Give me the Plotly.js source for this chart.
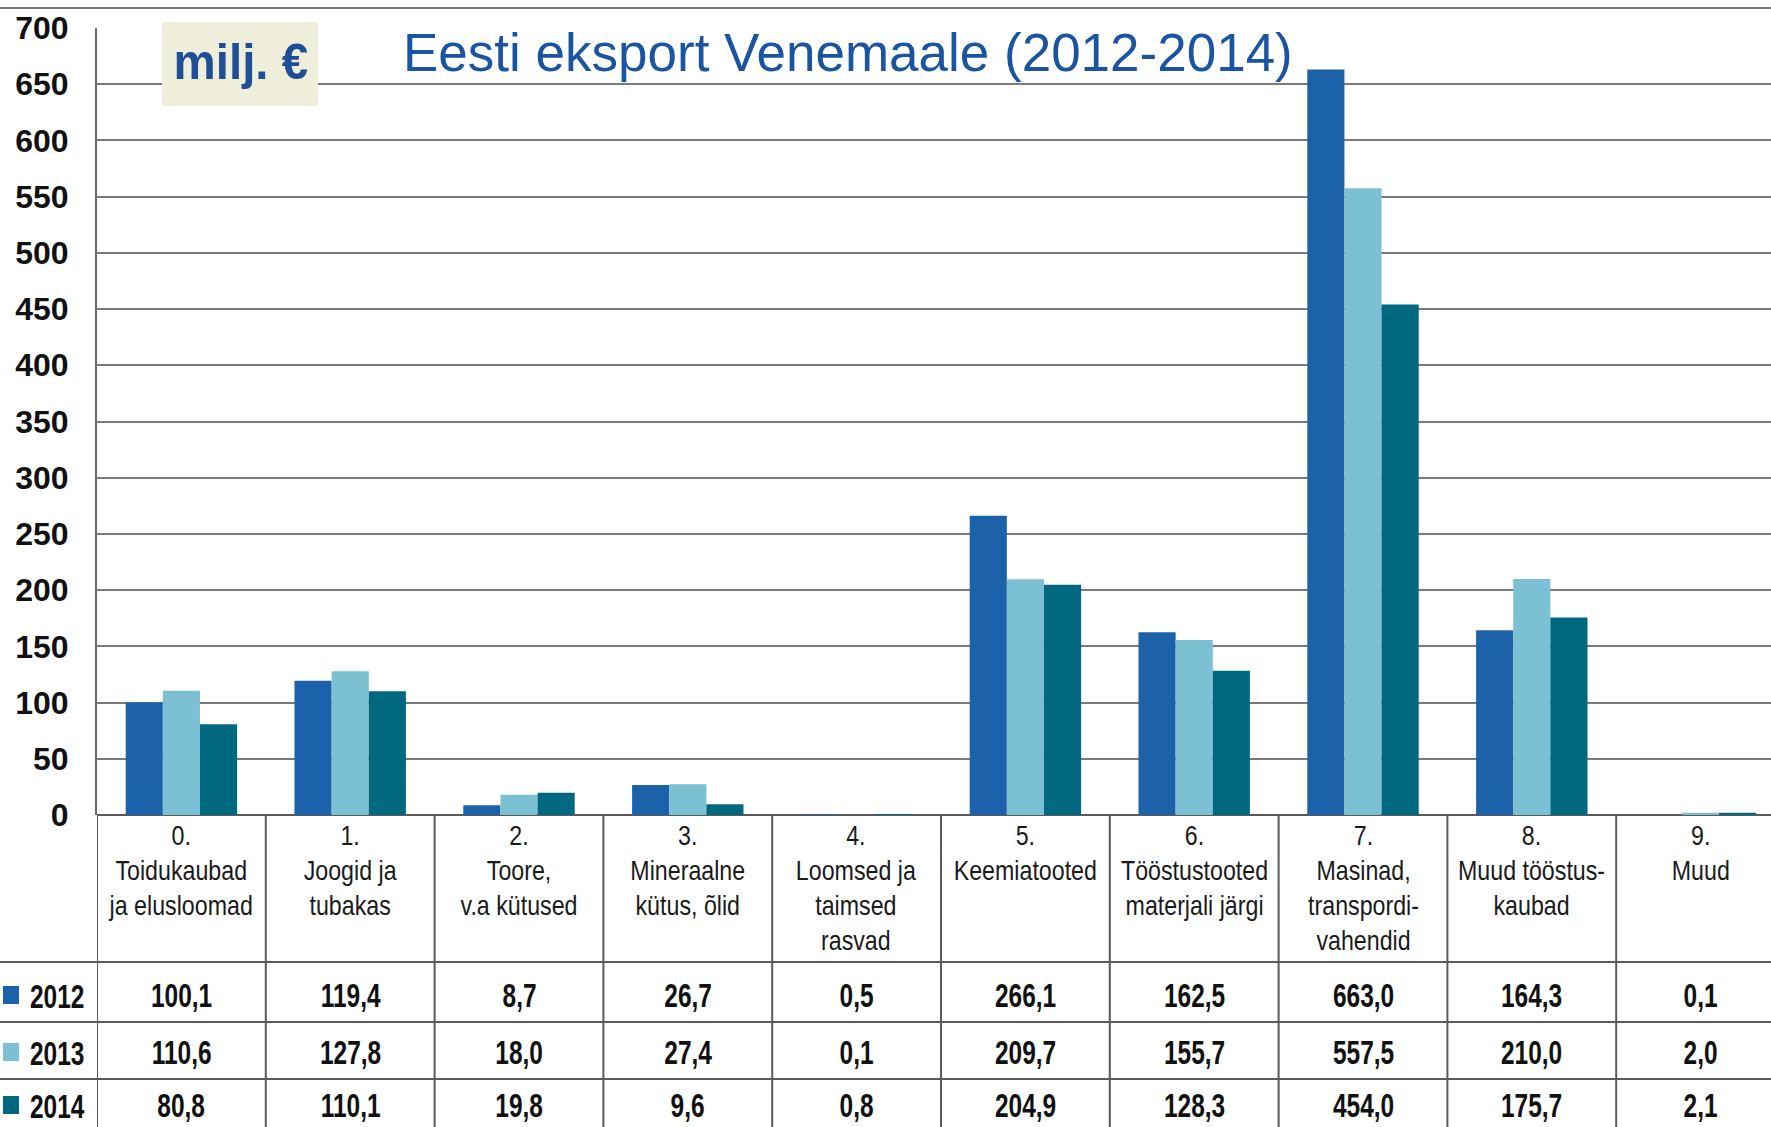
<!DOCTYPE html>
<html>
<head>
<meta charset="utf-8">
<script src="https://cdn.plot.ly/plotly-3.0.1.min.js"></script>
<style>html,body{margin:0;padding:0;background:#fff;}#chart{width:1771px;height:1127px;}</style>
</head>
<body>
<div id="chart"></div>
<script>
// ---- data ----
var categories = [
  "0.<br>Toidukaubad<br>ja elusloomad",
  "1.<br>Joogid ja<br>tubakas",
  "2.<br>Toore,<br>v.a kütused",
  "3.<br>Mineraalne<br>kütus, õlid",
  "4.<br>Loomsed ja<br>taimsed<br>rasvad",
  "5.<br>Keemiatooted",
  "6.<br>Tööstustooted<br>materjali järgi",
  "7.<br>Masinad,<br>transpordi-<br>vahendid",
  "8.<br>Muud tööstus-<br>kaubad",
  "9.<br>Muud"
];
var years = ["2012", "2013", "2014"];
var v2012 = [100.1, 119.4, 8.7, 26.7, 0.5, 266.1, 162.5, 663.0, 164.3, 0.1];
var v2013 = [110.6, 127.8, 18.0, 27.4, 0.1, 209.7, 155.7, 557.5, 210.0, 2.0];
var v2014 = [80.8, 110.1, 19.8, 9.6, 0.8, 204.9, 128.3, 454.0, 175.7, 2.1];
var yTicks = [0, 50, 100, 150, 200, 250, 300, 350, 400, 450, 500, 550, 600, 650, 700];
var titleText = "Eesti eksport Venemaale (2012-2014)";
var unitText = "milj. €";

// ---- styling / layout geometry ----
var colors = ["#1C62AA", "#7CC0D3", "#00687F"];
var W = 1771, H = 1127, L = 97, T = 28, B = 815;
var plotH = B - T, plotW = W - L;
function py(p) { return (B - p) / plotH; }   // pixel y -> paper y
function px(p) { return (p - L) / plotW; }   // pixel x -> paper x
var sans = "Liberation Sans, Arial, Helvetica, sans-serif";
var xs = categories.map(function (c, i) { return i; });
var series = [v2012, v2013, v2014];

var traces = series.map(function (vals, k) {
  return {
    type: "bar", x: xs, y: vals, name: years[k],
    marker: { color: colors[k], line: { width: 0 } },
    hoverinfo: "x+y", showlegend: false
  };
});

var shapes = [];
var annotations = [];
var annScale = [];   // horizontal condensing per annotation (1 = none)
var lineCol = "#5a5a5a";
function addAnn(a, s) { annotations.push(a); annScale.push(s || 1); }

// top frame line
shapes.push({ type: "line", xref: "paper", yref: "paper", x0: px(0), x1: 1, y0: py(8), y1: py(8), line: { color: "#7a7a7a", width: 2 } });
// table horizontal lines
[962, 1022, 1079].forEach(function (p) {
  shapes.push({ type: "line", xref: "paper", yref: "paper", x0: px(0), x1: 1, y0: py(p), y1: py(p), line: { color: lineCol, width: 2 } });
});
// table vertical lines
for (var k = 0; k <= categories.length; k++) {
  shapes.push({ type: "line", xref: "x", yref: "paper", x0: k - 0.5, x1: k - 0.5, y0: 0, y1: py(H), line: { color: lineCol, width: 2 } });
}
// unit box
shapes.push({ type: "rect", xref: "paper", yref: "paper", x0: px(162), x1: px(318), y0: py(22), y1: py(106), fillcolor: "#EEEEDB", line: { width: 0 }, layer: "above" });
addAnn({ xref: "paper", yref: "paper", x: px(241), y: py(62), xanchor: "center", yanchor: "middle", text: unitText, showarrow: false, font: { family: sans, size: 50, color: "#1E4E96", weight: 700 } }, 0.95);
// title
addAnn({ xref: "paper", yref: "paper", x: px(401), y: py(53), xanchor: "left", yanchor: "middle", text: titleText, showarrow: false, font: { family: sans, size: 53, color: "#1B54A0" } }, 1);

// header labels
categories.forEach(function (c, i) {
  addAnn({ xref: "x", yref: "paper", x: i, y: py(819), xanchor: "center", yanchor: "top", text: c, showarrow: false, align: "center", font: { family: sans, size: 27, color: "#1a1a1a" } }, 0.86);
});
// table values
var rowY = [995, 1052, 1105];
series.forEach(function (vals, r) {
  vals.forEach(function (v, i) {
    addAnn({ xref: "x", yref: "paper", x: i, y: py(rowY[r]), xanchor: "center", yanchor: "middle", text: v.toFixed(1).replace(".", ","), showarrow: false, font: { family: sans, size: 34, color: "#111", weight: 700 } }, 0.72);
  });
  // legend square + year
  shapes.push({ type: "rect", xref: "paper", yref: "paper", x0: px(3), x1: px(19), y0: py(rowY[r] - 9), y1: py(rowY[r] + 9), fillcolor: colors[r], line: { width: 0 } });
  addAnn({ xref: "paper", yref: "paper", x: px(28), y: py(rowY[r] + 1), xanchor: "left", yanchor: "middle", text: years[r], showarrow: false, font: { family: sans, size: 34, color: "#111", weight: 700 } }, 0.72);
});

var layout = {
  width: W, height: H,
  margin: { l: L, r: 0, t: T, b: H - B, pad: 0 },
  paper_bgcolor: "#fff", plot_bgcolor: "#fff",
  barmode: "group", bargap: 0.34, bargroupgap: 0,
  xaxis: { range: [-0.5, -0.5 + plotW / 168.8], showticklabels: false, showgrid: false, zeroline: false, showline: false, ticks: "", fixedrange: true },
  yaxis: {
    range: [0, 700], tickvals: yTicks, ticktext: yTicks.map(String),
    showgrid: true, gridcolor: "#7a7a7a", gridwidth: 2,
    zeroline: true, zerolinecolor: lineCol, zerolinewidth: 2,
    showline: true, linecolor: "#6a6a6a", linewidth: 2,
    ticks: "", ticklabelstandoff: 20,
    tickfont: { family: sans, size: 32, color: "#111", weight: 700 },
    fixedrange: true
  },
  shapes: shapes,
  annotations: annotations,
  showlegend: false
};

Plotly.newPlot("chart", traces, layout, { displayModeBar: false, staticPlot: true }).then(function (gd) {
  // condense annotation text horizontally (mimics the narrow typeface of the original)
  gd.querySelectorAll("g.annotation").forEach(function (g) {
    var i = +g.getAttribute("data-index");
    var s = annScale[i];
    if (!s || s === 1) return;
    var t = g.querySelector("text.annotation-text");
    if (!t) return;
    var bb = t.getBBox();
    var cx = annotations[i].xanchor === "left" ? bb.x : bb.x + bb.width / 2;
    t.setAttribute("transform", "translate(" + cx + ",0) scale(" + s + ",1) translate(" + (-cx) + ",0)");
  });
});
</script>
</body>
</html>
